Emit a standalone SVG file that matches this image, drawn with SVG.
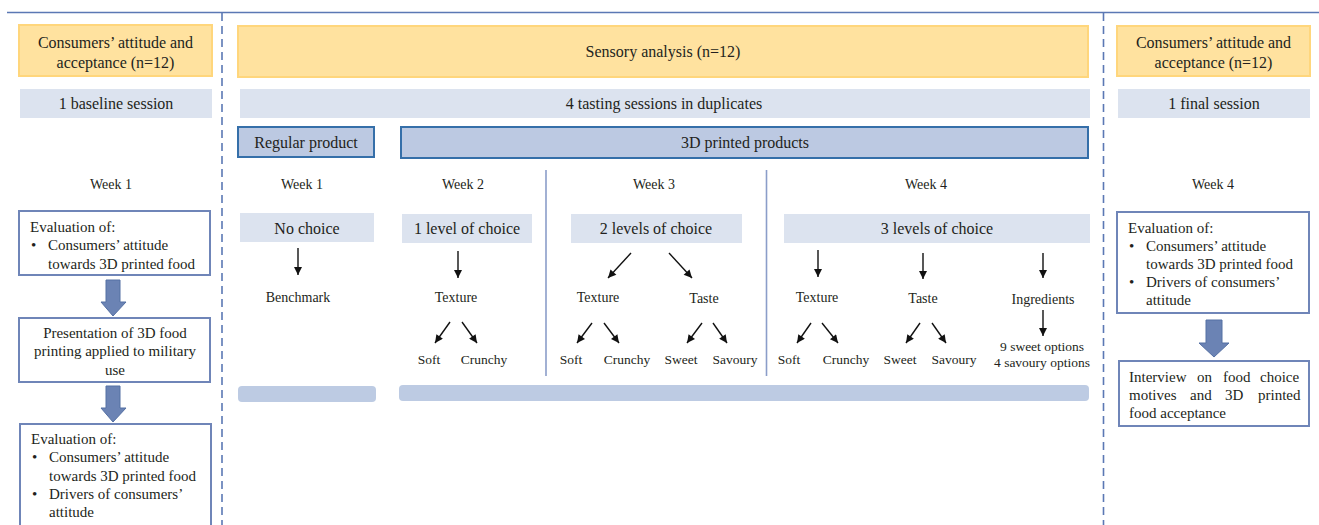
<svg xmlns="http://www.w3.org/2000/svg" width="1319" height="525" viewBox="0 0 1319 525">
<style>
text{font-family:"Liberation Serif","Times New Roman",serif;fill:#231F20}
.t16{font-size:16px;text-anchor:middle}
.t15{font-size:15px}
.t14{font-size:14px;text-anchor:middle}
.t13{font-size:13.5px;text-anchor:middle}
.yel{fill:#FFE29F;stroke:#FFD67C;stroke-width:2}
.lb{fill:#DCE3EF}
.mb{fill:#BCC9E2;stroke:#356FA9;stroke-width:2}
.bar{fill:#BDCBE3}
.box{fill:#fff;stroke:#6F85B8;stroke-width:2}
.fat{fill:#6B83B4;stroke:#5470A3;stroke-width:1}
.ar{stroke:#111;stroke-width:1.4;fill:none;marker-end:url(#ah)}
.dash{stroke:#5B78B4;stroke-width:1.6;stroke-dasharray:8 5;fill:none}
.sep{stroke:#8B9DC9;stroke-width:1.6}
</style>
<defs>
<marker id="ah" viewBox="0 0 10 10" refX="10" refY="5" markerWidth="9" markerHeight="8" markerUnits="userSpaceOnUse" orient="auto">
<path d="M0,0 L10,5 L0,10 z" fill="#111"/>
</marker>
</defs>
<g id="frame">
<line x1="7" y1="12.5" x2="1319" y2="12.5" stroke="#5B78B4" stroke-width="1.3"/>
<line class="dash" x1="222" y1="13" x2="222" y2="525"/>
<line class="dash" x1="1103.5" y1="13" x2="1103.5" y2="525"/>
<line class="sep" x1="546" y1="170" x2="546" y2="376"/>
<line class="sep" x1="766.5" y1="170" x2="766.5" y2="376"/>
</g>
<g id="left-header">
<rect class="yel" x="19" y="25" width="193" height="51"/>
<text class="t16" x="115.5" y="48">Consumers’ attitude and</text>
<text class="t16" x="115.5" y="68">acceptance (n=12)</text>
<rect class="lb" x="20" y="89" width="192" height="29"/>
<text class="t16" x="116" y="109">1 baseline session</text>
<text class="t14" x="111" y="189">Week 1</text>
</g>
<g id="left-eval1">
<rect class="box" x="19" y="211" width="191" height="64"/>
<text class="t15" x="30" y="232">Evaluation of:</text>
<text class="t15" x="31" y="250">•</text>
<text class="t15" x="48" y="250">Consumers’ attitude</text>
<text class="t15" x="48" y="269">towards 3D printed food</text>
</g>
<g id="left-presentation">
<rect class="box" x="19" y="318" width="191" height="64"/>
<text class="t15" x="115" y="338" text-anchor="middle">Presentation of 3D food</text>
<text class="t15" x="115" y="356" text-anchor="middle">printing applied to military</text>
<text class="t15" x="115" y="375" text-anchor="middle">use</text>
</g>
<g id="left-eval2">
<rect class="box" x="20" y="424" width="191" height="110"/>
<text class="t15" x="31" y="444">Evaluation of:</text>
<text class="t15" x="32" y="462">•</text>
<text class="t15" x="49" y="462">Consumers’ attitude</text>
<text class="t15" x="49" y="481">towards 3D printed food</text>
<text class="t15" x="32" y="499">•</text>
<text class="t15" x="49" y="499">Drivers of consumers’</text>
<text class="t15" x="49" y="517">attitude</text>
</g>
<g id="middle-header">
<rect class="yel" x="238" y="26" width="850" height="51"/>
<text class="t16" x="663" y="57">Sensory analysis (n=12)</text>
<rect class="lb" x="240" y="89" width="850" height="29"/>
<text class="t16" x="664" y="109">4 tasting sessions in duplicates</text>
</g>
<g id="regular-product">
<rect class="mb" x="238" y="127" width="136" height="30"/>
<text class="t16" x="306" y="148">Regular product</text>
</g>
<g id="printed-products">
<rect class="mb" x="401" y="127" width="687" height="31"/>
<text class="t16" x="745" y="148">3D printed products</text>
</g>
<g id="week1">
<text class="t14" x="302" y="189">Week 1</text>
<rect class="lb" x="240" y="213" width="134" height="29"/>
<text class="t16" x="307" y="234">No choice</text>
<text class="t14" x="298" y="302">Benchmark</text>
</g>
<g id="week2">
<text class="t14" x="463" y="189">Week 2</text>
<rect class="lb" x="402" y="214" width="130" height="29"/>
<text class="t16" x="467" y="234">1 level of choice</text>
<text class="t14" x="456" y="302">Texture</text>
<text class="t13" x="429" y="364">Soft</text>
<text class="t13" x="484" y="364">Crunchy</text>
</g>
<g id="week3">
<text class="t14" x="654" y="189">Week 3</text>
<rect class="lb" x="571" y="214" width="171" height="29"/>
<text class="t16" x="656" y="234">2 levels of choice</text>
<text class="t14" x="598" y="302">Texture</text>
<text class="t14" x="704" y="303">Taste</text>
<text class="t13" x="571" y="364">Soft</text>
<text class="t13" x="627" y="364">Crunchy</text>
<text class="t13" x="681" y="364">Sweet</text>
<text class="t13" x="735" y="364">Savoury</text>
</g>
<g id="week4">
<text class="t14" x="926" y="189">Week 4</text>
<rect class="lb" x="784" y="214" width="306" height="29"/>
<text class="t16" x="937" y="234">3 levels of choice</text>
<text class="t14" x="817" y="302">Texture</text>
<text class="t14" x="923" y="303">Taste</text>
<text class="t14" x="1043" y="304">Ingredients</text>
<text class="t13" x="789" y="364">Soft</text>
<text class="t13" x="846" y="364">Crunchy</text>
<text class="t13" x="900" y="364">Sweet</text>
<text class="t13" x="954" y="364">Savoury</text>
<text class="t13" x="1042" y="351">9 sweet options</text>
<text class="t13" x="1042" y="367">4 savoury options</text>
</g>
<g id="bottom-bars">
<rect class="bar" x="238" y="386" width="138" height="16" rx="4"/>
<rect class="bar" x="399" y="385" width="690" height="16" rx="4"/>
</g>
<g id="right-header">
<rect class="yel" x="1117" y="26" width="193" height="50"/>
<text class="t16" x="1213.5" y="48">Consumers’ attitude and</text>
<text class="t16" x="1213.5" y="68">acceptance (n=12)</text>
<rect class="lb" x="1118" y="89" width="192" height="29"/>
<text class="t16" x="1214" y="109">1 final session</text>
<text class="t14" x="1213" y="189">Week 4</text>
</g>
<g id="right-eval">
<rect class="box" x="1117" y="212" width="192" height="101"/>
<text class="t15" x="1128" y="233">Evaluation of:</text>
<text class="t15" x="1129" y="251">•</text>
<text class="t15" x="1146" y="251">Consumers’ attitude</text>
<text class="t15" x="1146" y="269">towards 3D printed food</text>
<text class="t15" x="1129" y="287">•</text>
<text class="t15" x="1146" y="287">Drivers of consumers’</text>
<text class="t15" x="1146" y="305">attitude</text>
</g>
<g id="right-interview">
<rect class="box" x="1119" y="361" width="190" height="65"/>
<text class="t15" y="382"><tspan x="1129">Interview</tspan><tspan x="1197">on</tspan><tspan x="1223">food</tspan><tspan x="1260">choice</tspan></text>
<text class="t15" y="400"><tspan x="1129">motives</tspan><tspan x="1190">and</tspan><tspan x="1225">3D</tspan><tspan x="1258">printed</tspan></text>
<text class="t15" x="1129" y="418">food acceptance</text>
</g>
<g id="connectors">
<path class="fat" d="M106,280 H120 V302 H126 L113,316 L101,302 H106 Z"/>
<path class="fat" d="M106,386 H120 V408 H126 L113,422 L101,408 H106 Z"/>
<path class="fat" d="M1206,320 H1222 V343 H1229 L1214,357 L1199,343 H1206 Z"/>
<line class="ar" x1="298" y1="248" x2="298" y2="275"/>
<line class="ar" x1="458" y1="251" x2="458" y2="278"/>
<line class="ar" x1="450" y1="322" x2="435" y2="343"/>
<line class="ar" x1="462" y1="322" x2="477" y2="343"/>
<line class="ar" x1="631" y1="253" x2="608" y2="278"/>
<line class="ar" x1="669" y1="253" x2="692" y2="278"/>
<line class="ar" x1="592" y1="323" x2="577" y2="343"/>
<line class="ar" x1="604" y1="323" x2="619" y2="343"/>
<line class="ar" x1="702" y1="323" x2="687" y2="343"/>
<line class="ar" x1="713" y1="323" x2="727" y2="343"/>
<line class="ar" x1="818" y1="250" x2="818" y2="277"/>
<line class="ar" x1="923" y1="253" x2="923" y2="279"/>
<line class="ar" x1="1043" y1="253" x2="1043" y2="278"/>
<line class="ar" x1="1043" y1="310" x2="1043" y2="336"/>
<line class="ar" x1="811" y1="323" x2="797" y2="343"/>
<line class="ar" x1="822" y1="323" x2="838" y2="343"/>
<line class="ar" x1="920" y1="323" x2="906" y2="343"/>
<line class="ar" x1="932" y1="323" x2="946" y2="343"/>
</g>
</svg>
